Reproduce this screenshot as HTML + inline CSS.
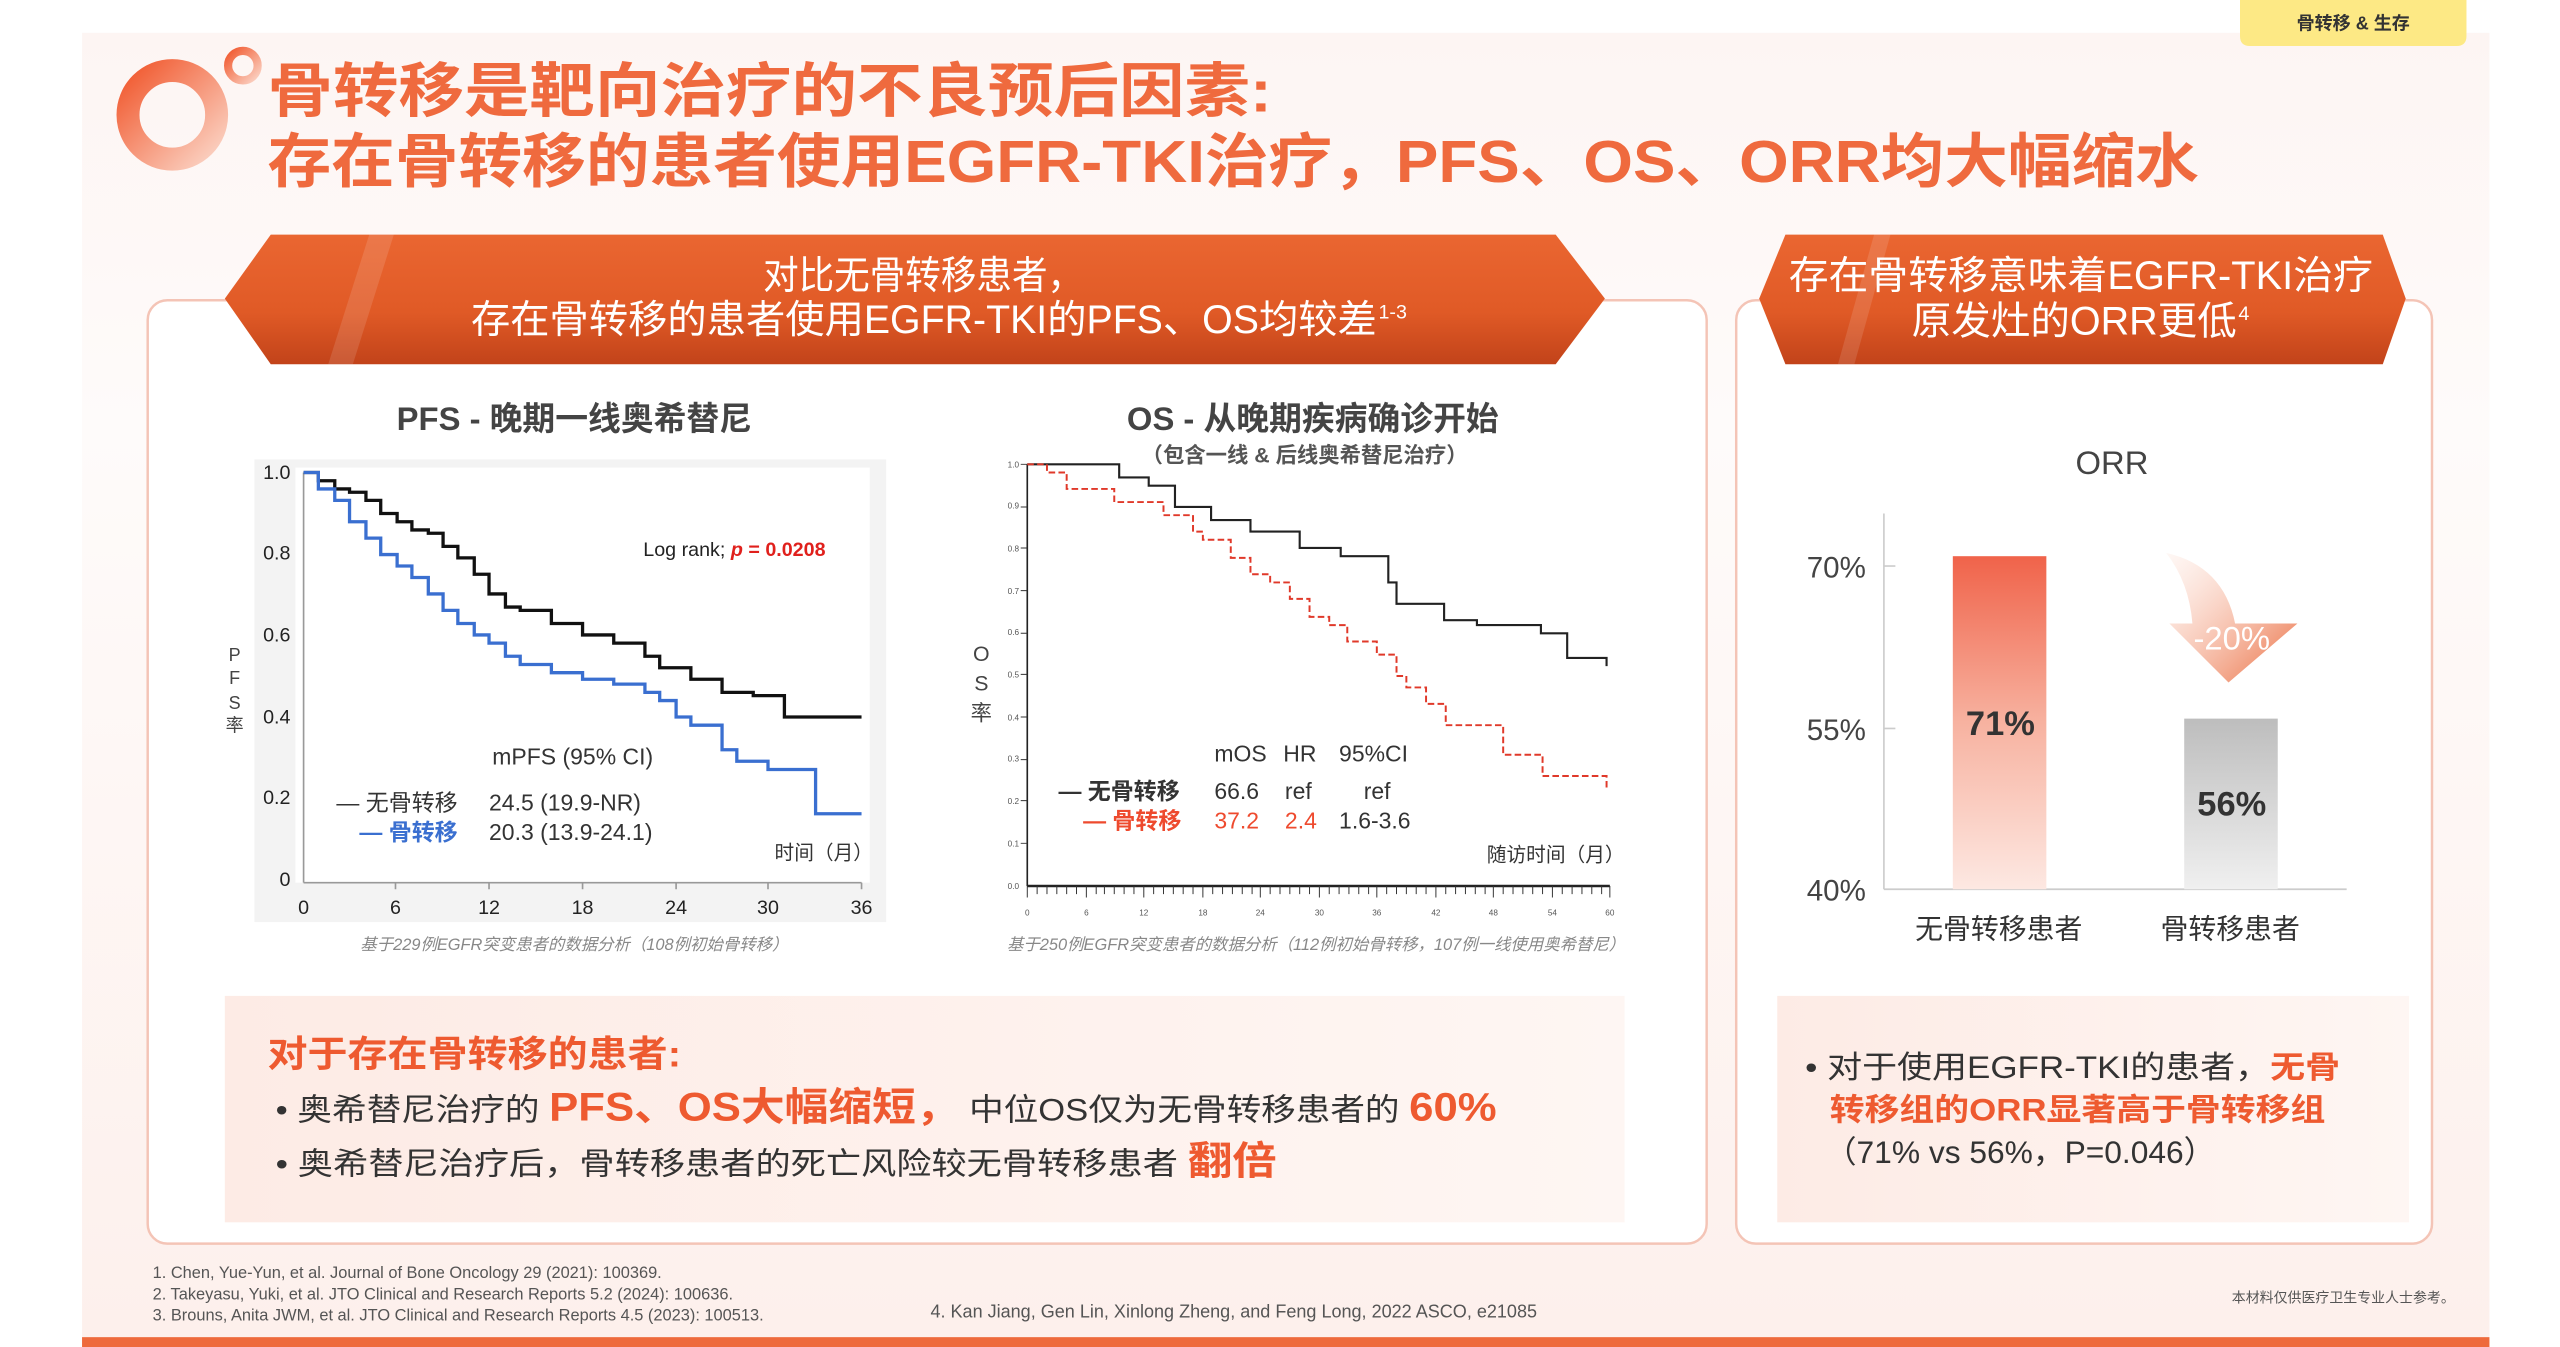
<!DOCTYPE html>
<html><head><meta charset="utf-8"><style>
html,body{margin:0;padding:0;background:#fff;}
svg{display:block;font-family:"Liberation Sans","Noto Sans CJK SC",sans-serif;}
</style></head><body>
<svg width="2560" height="1347" viewBox="0 0 1560 821" preserveAspectRatio="none" xmlns="http://www.w3.org/2000/svg">
<defs>
<linearGradient id="bg" x1="0" y1="0" x2="0" y2="1"><stop offset="0" stop-color="#fdf5f3"/><stop offset="0.3" stop-color="#fefbfa"/><stop offset="1" stop-color="#fdf0ec"/></linearGradient>
<linearGradient id="ban" x1="0" y1="0" x2="0" y2="1"><stop offset="0" stop-color="#ea6631"/><stop offset="0.6" stop-color="#e05a26"/><stop offset="1" stop-color="#c2431a"/></linearGradient>
<linearGradient id="ring" x1="0" y1="0" x2="1" y2="1"><stop offset="0" stop-color="#f15a30"/><stop offset="1" stop-color="#fbd3c4"/></linearGradient>
<linearGradient id="b1" x1="0" y1="0" x2="0" y2="1"><stop offset="0" stop-color="#f0634a"/><stop offset="0.5" stop-color="#f7b2a0"/><stop offset="1" stop-color="#fde8e2"/></linearGradient>
<linearGradient id="b2" x1="0" y1="0" x2="0" y2="1"><stop offset="0" stop-color="#bdbdbd"/><stop offset="1" stop-color="#f0f0f0"/></linearGradient>
<linearGradient id="arr" x1="0" y1="0" x2="1" y2="1"><stop offset="0" stop-color="#fde6dd" stop-opacity="0.3"/><stop offset="1" stop-color="#ea6a3c"/></linearGradient>
<linearGradient id="box" x1="0" y1="0" x2="1" y2="0"><stop offset="0" stop-color="#fdebe5"/><stop offset="1" stop-color="#fef6f3"/></linearGradient>
</defs>
<rect x="50" y="20" width="1467" height="800" fill="url(#bg)"/>
<rect x="50" y="815" width="1467" height="10" fill="#ee6a3c"/>
<path d="M1365,0 H1503 V22 Q1503,28 1497,28 H1371 Q1365,28 1365,22 Z" fill="#fde985"/>
<text x="1434" y="18" font-size="11" font-weight="bold" fill="#333" text-anchor="middle">骨转移 &amp; 生存</text>
<circle cx="105" cy="70" r="27" fill="none" stroke="url(#ring)" stroke-width="14"/>
<circle cx="148" cy="40" r="9" fill="none" stroke="url(#ring)" stroke-width="5"/>
<text x="163" y="68" font-size="36" font-weight="bold" fill="#ef6a3e" textLength="612" lengthAdjust="spacingAndGlyphs">骨转移是靶向治疗的不良预后因素:</text>
<text x="163" y="111" font-size="36" font-weight="bold" fill="#ef6a3e" textLength="1177" lengthAdjust="spacingAndGlyphs">存在骨转移的患者使用EGFR-TKI治疗，PFS、OS、ORR均大幅缩水</text>
<rect x="90" y="183" width="950" height="575" rx="12" fill="#fff" stroke="#f4c4b6" stroke-width="1.5"/>
<rect x="1058" y="183" width="424" height="575" rx="12" fill="#fff" stroke="#f4c4b6" stroke-width="1.5"/>
<polygon points="137,182 165,143 948,143 978,182 948,222 165,222" fill="url(#ban)"/>
<polygon points="1072,182 1088,143 1452,143 1466,182 1452,222 1088,222" fill="url(#ban)"/>
<polygon points="225,143 240,143 215,222 200,222" fill="#fff" opacity="0.12"/>
<polygon points="1142,143 1152,143 1130,222 1120,222" fill="#fff" opacity="0.12"/>
<text x="465" y="176" font-size="24" fill="#fff" textLength="195" lengthAdjust="spacingAndGlyphs">对比无骨转移患者，</text>
<text x="287" y="203" font-size="24" fill="#fff" textLength="552" lengthAdjust="spacingAndGlyphs">存在骨转移的患者使用EGFR-TKI的PFS、OS均较差</text>
<text x="840" y="194" font-size="12" fill="#fff">1-3</text>
<text x="1090" y="176" font-size="24" fill="#fff" textLength="356" lengthAdjust="spacingAndGlyphs">存在骨转移意味着EGFR-TKI治疗</text>
<text x="1165" y="204" font-size="24" fill="#fff" textLength="198" lengthAdjust="spacingAndGlyphs">原发灶的ORR更低</text>
<text x="1364" y="195" font-size="12" fill="#fff">4</text>

<text x="350" y="262" font-size="20" font-weight="bold" fill="#444" text-anchor="middle">PFS - 晚期一线奥希替尼</text>
<rect x="155" y="280" width="385" height="282" fill="#f3f3f3"/>
<rect x="180" y="285" width="350" height="253" fill="#fff"/>
<line x1="185" y1="288" x2="185" y2="538" stroke="#999" stroke-width="1"/>
<line x1="185" y1="538" x2="525" y2="538" stroke="#999" stroke-width="1"/>
<g font-size="12" fill="#222" text-anchor="end">
<text x="177" y="292">1.0</text><text x="177" y="341">0.8</text><text x="177" y="391">0.6</text><text x="177" y="441">0.4</text><text x="177" y="490">0.2</text><text x="177" y="540">0</text></g>
<g font-size="12" fill="#222" text-anchor="middle">
<text x="185" y="557">0</text><text x="241" y="557">6</text><text x="298" y="557">12</text><text x="355" y="557">18</text><text x="412" y="557">24</text><text x="468" y="557">30</text><text x="525" y="557">36</text></g>
<g stroke="#999"><line x1="241" y1="538" x2="241" y2="542"/><line x1="298" y1="538" x2="298" y2="542"/><line x1="355" y1="538" x2="355" y2="542"/><line x1="412" y1="538" x2="412" y2="542"/><line x1="468" y1="538" x2="468" y2="542"/><line x1="525" y1="538" x2="525" y2="542"/></g>
<g font-size="11" fill="#444" text-anchor="middle"><text x="143" y="403">P</text><text x="143" y="417">F</text><text x="143" y="432">S</text><text x="143" y="446">率</text></g>
<path d="M185,288 H194 V293 H204 V298 H213 V300 H223 V305 H232 V313 H242 V318 H251 V323 H261 V325 H270 V333 H279 V340 H289 V350 H298 V362 H308 V370 H317 V372 H336 V380 H355 V387 H374 V392 H393 V400 H402 V407 H421 V414 H440 V422 H459 V424 H478 V437 H525" fill="none" stroke="#111" stroke-width="2"/>
<path d="M185,288 H194 V298 H204 V305 H213 V318 H223 V328 H232 V338 H242 V345 H251 V352 H261 V362 H270 V372 H279 V380 H289 V387 H298 V392 H308 V400 H317 V405 H336 V410 H355 V414 H374 V417 H393 V422 H402 V427 H412 V437 H421 V442 H440 V457 H449 V464 H468 V469 H497 V496 H525" fill="none" stroke="#3a6fd0" stroke-width="2"/>
<text x="392" y="339" font-size="12" fill="#222">Log rank; <tspan fill="#e0201c" font-style="italic" font-weight="bold">p</tspan><tspan fill="#e0201c" font-weight="bold"> = 0.0208</tspan></text>
<text x="300" y="466" font-size="14" fill="#333">mPFS (95% CI)</text>
<text x="205" y="494" font-size="14" fill="#333">— 无骨转移 <tspan x="298">24.5 (19.9-NR)</tspan></text>
<text x="219" y="512" font-size="14" fill="#3a6fd0" font-weight="bold">— 骨转移 <tspan x="298" fill="#333" font-weight="normal">20.3 (13.9-24.1)</tspan></text>
<text x="472" y="524" font-size="12" fill="#333">时间（月）</text>
<text x="350" y="579" font-size="10" fill="#888" font-style="italic" text-anchor="middle">基于229例EGFR突变患者的数据分析（108例初始骨转移）</text>

<text x="800" y="262" font-size="20" font-weight="bold" fill="#444" text-anchor="middle">OS - 从晚期疾病确诊开始</text>
<text x="795" y="282" font-size="13" font-weight="bold" fill="#555" text-anchor="middle">（包含一线 &amp; 后线奥希替尼治疗）</text>
<line x1="626" y1="283" x2="626" y2="540" stroke="#222" stroke-width="1"/>
<line x1="626" y1="540" x2="981" y2="540" stroke="#222" stroke-width="1.5"/>
<g font-size="5" fill="#555" text-anchor="end">
<text x="621" y="285">1.0</text><text x="621" y="310">0.9</text><text x="621" y="336">0.8</text><text x="621" y="362">0.7</text><text x="621" y="387">0.6</text><text x="621" y="413">0.5</text><text x="621" y="439">0.4</text><text x="621" y="464">0.3</text><text x="621" y="490">0.2</text><text x="621" y="516">0.1</text><text x="621" y="542">0.0</text></g>
<g stroke="#333" stroke-width="0.6">
<path d="M626,547 V540 M632,545 V540 M638,545 V540 M644,545 V540 M650,545 V540 M656,545 V540 M662,547 V540 M668,545 V540 M673,545 V540 M679,545 V540 M685,545 V540 M691,545 V540 M697,547 V540 M703,545 V540 M709,545 V540 M715,545 V540 M721,545 V540 M727,545 V540 M733,547 V540 M739,545 V540 M745,545 V540 M751,545 V540 M757,545 V540 M763,545 V540 M768,547 V540 M774,545 V540 M780,545 V540 M786,545 V540 M792,545 V540 M798,545 V540 M804,547 V540 M810,545 V540 M816,545 V540 M822,545 V540 M828,545 V540 M834,545 V540 M839,547 V540 M845,545 V540 M851,545 V540 M857,545 V540 M863,545 V540 M869,545 V540 M875,547 V540 M881,545 V540 M887,545 V540 M893,545 V540 M899,545 V540 M905,545 V540 M910,547 V540 M916,545 V540 M922,545 V540 M928,545 V540 M934,545 V540 M940,545 V540 M946,547 V540 M952,545 V540 M958,545 V540 M964,545 V540 M970,545 V540 M976,545 V540 M981,547 V540"/>
<path d="M626,283 H622 M626,309 H622 M626,334 H622 M626,360 H622 M626,386 H622 M626,411 H622 M626,437 H622 M626,463 H622 M626,488 H622 M626,514 H622"/></g>
<g font-size="5" fill="#555" text-anchor="middle">
<text x="626" y="558">0</text><text x="662" y="558">6</text><text x="697" y="558">12</text><text x="733" y="558">18</text><text x="768" y="558">24</text><text x="804" y="558">30</text><text x="839" y="558">36</text><text x="875" y="558">42</text><text x="910" y="558">48</text><text x="946" y="558">54</text><text x="981" y="558">60</text></g>
<g font-size="13" fill="#444" text-anchor="middle"><text x="598" y="403">O</text><text x="598" y="421">S</text><text x="598" y="439">率</text></g>
<path d="M626,283 H682 V291 H700 V296 H716 V309 H738 V317 H762 V324 H792 V334 H817 V339 H846 V355 H851 V368 H880 V378 H900 V381 H939 V386 H955 V401 H979 V406" fill="none" stroke="#222" stroke-width="1.3"/>
<path d="M626,283 H638 V288 H650 V298 H679 V306 H709 V314 H727 V324 H733 V329 H750 V340 H762 V350 H774 V355 H786 V365 H798 V376 H810 V381 H821 V391 H839 V399 H851 V412 H857 V419 H869 V429 H881 V442 H916 V460 H940 V473 H979 V481" fill="none" stroke="#e0392a" stroke-width="1.2" stroke-dasharray="4 2"/>
<text x="740" y="464" font-size="14" fill="#333">mOS <tspan x="782">HR</tspan><tspan x="816">95%CI</tspan></text>
<text x="645" y="487" font-size="14" fill="#333" font-weight="bold">— 无骨转移 <tspan x="740" font-weight="normal">66.6</tspan><tspan x="783" font-weight="normal">ref</tspan><tspan x="831" font-weight="normal">ref</tspan></text>
<text x="660" y="505" font-size="14" fill="#ee4a2e" font-weight="bold">— 骨转移 <tspan x="740" font-weight="normal">37.2</tspan><tspan x="783" font-weight="normal">2.4</tspan><tspan x="816" fill="#333" font-weight="normal">1.6-3.6</tspan></text>
<text x="906" y="525" font-size="12" fill="#333">随访时间（月）</text>
<text x="802" y="579" font-size="10" fill="#888" font-style="italic" text-anchor="middle">基于250例EGFR突变患者的数据分析（112例初始骨转移，107例一线使用奥希替尼）</text>

<rect x="137" y="607" width="853" height="138" fill="url(#box)"/>
<text x="163" y="650" font-size="22" font-weight="bold" fill="#ee5a30" textLength="252" lengthAdjust="spacingAndGlyphs">对于存在骨转移的患者:</text>
<text x="168" y="683" font-size="19" fill="#333" textLength="744" lengthAdjust="spacingAndGlyphs">• 奥希替尼治疗的 <tspan font-size="24" font-weight="bold" fill="#ee5a30">PFS、OS大幅缩短，</tspan> 中位OS仅为无骨转移患者的 <tspan font-size="24" font-weight="bold" fill="#ee5a30">60%</tspan></text>
<text x="168" y="716" font-size="19" fill="#333" textLength="610" lengthAdjust="spacingAndGlyphs">• 奥希替尼治疗后，骨转移患者的死亡风险较无骨转移患者 <tspan font-size="24" font-weight="bold" fill="#ee5a30">翻倍</tspan></text>

<text x="1287" y="289" font-size="20" fill="#444" text-anchor="middle">ORR</text>
<line x1="1148" y1="313" x2="1148" y2="542" stroke="#ccc"/>
<line x1="1148" y1="542" x2="1430" y2="542" stroke="#ccc"/>
<line x1="1148" y1="345" x2="1155" y2="345" stroke="#ccc"/><line x1="1148" y1="444" x2="1155" y2="444" stroke="#ccc"/>
<g font-size="18" fill="#444" text-anchor="end"><text x="1137" y="352">70%</text><text x="1137" y="451">55%</text><text x="1137" y="549">40%</text></g>
<rect x="1190" y="339" width="57" height="203" fill="url(#b1)"/>
<rect x="1331" y="438" width="57" height="104" fill="url(#b2)"/>
<text x="1219" y="448" font-size="21" font-weight="bold" fill="#333" text-anchor="middle">71%</text>
<text x="1360" y="497" font-size="21" font-weight="bold" fill="#333" text-anchor="middle">56%</text>
<path d="M1320,337 Q1355,345 1362,380 L1400,380 L1358,416 L1322,380 L1336,380 Q1334,355 1320,337 Z" fill="url(#arr)"/>
<text x="1360" y="396" font-size="20" fill="#fff" text-anchor="middle">-20%</text>
<g font-size="17" fill="#333" text-anchor="middle"><text x="1218" y="572">无骨转移患者</text><text x="1359" y="572">骨转移患者</text></g>
<rect x="1083" y="607" width="385" height="138" fill="url(#box)"/>
<text x="1100" y="657" font-size="19" fill="#333" textLength="326" lengthAdjust="spacingAndGlyphs">• 对于使用EGFR-TKI的患者，<tspan font-weight="bold" fill="#ee5a30">无骨</tspan></text>
<text x="1115" y="683" font-size="19" font-weight="bold" fill="#ee5a30" textLength="302" lengthAdjust="spacingAndGlyphs">转移组的ORR显著高于骨转移组</text>
<text x="1112" y="709" font-size="19" fill="#333" textLength="238" lengthAdjust="spacingAndGlyphs">（71% vs 56%，P=0.046）</text>

<g font-size="10" fill="#555">
<text x="93" y="779">1.  Chen, Yue-Yun, et al. Journal of Bone Oncology 29 (2021): 100369.</text>
<text x="93" y="792">2.  Takeyasu, Yuki, et al. JTO Clinical and Research Reports 5.2 (2024): 100636.</text>
<text x="93" y="805">3.  Brouns, Anita JWM, et al. JTO Clinical and Research Reports 4.5 (2023): 100513.</text>
<text x="567" y="803" font-size="11">4. Kan Jiang, Gen Lin, Xinlong Zheng, and Feng Long, 2022 ASCO, e21085</text>
<text x="1360" y="794" font-size="8.5">本材料仅供医疗卫生专业人士参考。</text>
</g>
</svg>
</body></html>
